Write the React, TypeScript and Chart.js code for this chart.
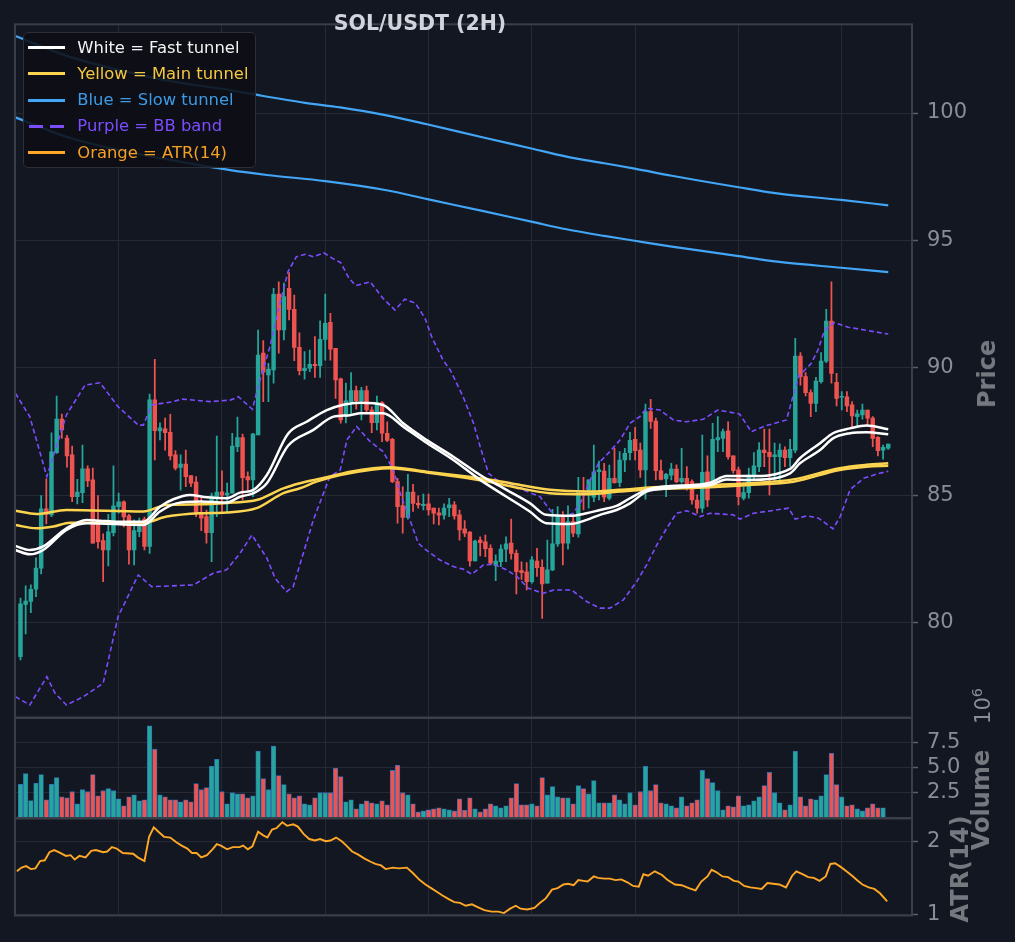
import { useEffect, useRef } from "react"
import { Chart, registerables } from "chart.js"

Chart.register(...registerables)

const FONT = "DejaVu Sans"
const BG = "#131722"
const GRID = "#262a35"
const FRAME = "#3a3e49"
const TICK = "#5b5e68"
const TICK_TEXT = "#8a8d95"
const TITLE_TEXT = "#75787f"
const UP = "#26a69a"
const DOWN = "#ef5350"

// candles, 2H, index 1..169
const opens = [
  78.68, 80.73, 80.84, 81.32, 82.15, 84.47, 84.24, 86.68, 88.0, 87.25, 86.59, 84.95, 85.11, 86.04, 85.61, 84.01, 83.23, 82.86, 83.54, 84.56,
  84.75, 84.2, 82.86, 83.58, 84.07, 83.0, 88.75, 87.53, 87.61, 87.48, 86.59, 86.1, 86.23, 85.78, 85.52, 84.3, 84.17, 83.54, 84.95, 85.14,
  85.02, 85.09, 86.91, 87.27, 85.74, 85.61, 87.37, 90.58, 89.73, 89.92, 92.9, 91.49, 93.12, 92.3, 90.81, 89.89, 89.99, 90.14, 90.09, 91.12,
  91.79, 90.77, 89.57, 88.09, 88.68, 89.11, 88.72, 89.11, 88.35, 87.85, 88.64, 87.44, 87.2, 85.54, 84.6, 84.14, 85.13, 84.69, 84.6, 84.67,
  84.5, 84.32, 84.23, 84.52, 84.63, 84.24, 83.69, 83.56, 82.43, 83.25, 83.18, 82.93, 82.26, 82.4, 82.89, 83.13, 82.73, 82.05, 82.0, 81.62,
  82.43, 82.18, 81.56, 82.08, 83.1, 84.17, 83.13, 83.97, 83.49, 85.15, 85.09, 84.93, 85.93, 85.96, 84.89, 85.67, 85.5, 86.39, 86.68, 87.2,
  86.78, 86.0, 88.29, 87.92, 85.97, 85.65, 85.8, 86.03, 85.54, 85.67, 85.54, 84.82, 84.5, 85.93, 85.54, 87.18, 87.24, 87.53, 86.55, 86.0,
  84.89, 85.11, 85.8, 86.13, 86.78, 86.69, 86.52, 86.52, 86.78, 86.48, 86.78, 90.47, 89.66, 89.03, 88.61, 89.46, 90.27, 91.84, 89.44, 88.85,
  88.87, 88.55, 88.09, 88.16, 88.35, 88.03, 87.28, 86.78, 86.85,
]
const highs = [
  80.97, 81.45, 81.49, 82.55, 84.99, 85.65, 87.46, 88.9, 88.19, 87.36, 86.94, 85.63, 86.98, 86.16, 86.07, 84.99, 83.49, 84.26, 86.16, 85.09,
  84.79, 84.26, 84.04, 84.11, 84.15, 88.98, 90.34, 87.85, 88.03, 88.18, 86.76, 86.59, 86.78, 85.78, 85.74, 84.95, 84.43, 85.09, 87.33, 85.97,
  85.48, 87.44, 88.07, 87.41, 85.93, 87.44, 91.49, 91.07, 90.18, 93.12, 93.38, 93.33, 93.74, 92.86, 91.38, 90.64, 90.7, 91.23, 91.85, 92.9,
  92.14, 90.77, 89.6, 89.41, 89.82, 89.29, 89.24, 89.29, 88.48, 88.9, 88.68, 87.89, 87.24, 85.67, 85.34, 85.83, 85.44, 84.98, 85.05, 85.05,
  84.5, 84.5, 84.67, 84.89, 84.76, 84.43, 84.01, 83.58, 83.25, 83.38, 83.45, 83.06, 82.67, 83.06, 83.38, 84.07, 82.86, 82.4, 82.37, 82.6,
  82.93, 82.47, 83.25, 84.46, 84.56, 84.37, 84.59, 84.23, 85.71, 85.71, 85.61, 86.98, 86.35, 86.26, 86.19, 86.85, 86.72, 86.85, 87.48, 87.67,
  87.05, 88.58, 88.77, 88.03, 86.39, 85.87, 86.26, 86.2, 86.85, 86.13, 85.61, 85.02, 87.37, 86.55, 87.83, 88.09, 87.6, 87.89, 86.55, 86.11,
  85.34, 86.07, 86.68, 87.07, 87.6, 87.6, 87.05, 87.02, 86.91, 87.2, 91.16, 90.6, 89.82, 89.14, 89.63, 90.6, 92.3, 93.38, 89.79, 89.07,
  89.07, 88.68, 88.35, 88.58, 88.35, 88.09, 87.31, 86.98, 87.01,
]
const lows = [
  78.55, 79.57, 80.4, 81.03, 81.92, 83.88, 84.17, 86.65, 87.24, 86.11, 84.76, 84.67, 84.72, 85.34, 83.13, 82.93, 81.62, 82.24, 83.41, 84.3,
  83.77, 82.3, 82.27, 83.38, 82.86, 82.73, 86.39, 87.18, 86.78, 86.39, 86.0, 85.21, 85.34, 85.34, 84.17, 83.62, 83.13, 82.4, 84.17, 84.3,
  84.3, 85.09, 86.72, 84.82, 85.21, 84.95, 87.37, 88.68, 88.68, 89.4, 90.58, 91.1, 91.88, 90.29, 89.73, 89.56, 89.85, 89.63, 89.63, 90.31,
  90.31, 88.81, 87.83, 87.84, 88.22, 88.38, 87.96, 88.22, 87.46, 87.57, 87.11, 87.11, 85.5, 83.91, 83.52, 84.07, 84.37, 84.5, 84.43, 84.23,
  83.88, 83.84, 84.07, 84.17, 84.07, 83.25, 83.38, 82.23, 82.43, 82.63, 82.6, 82.27, 81.66, 82.21, 82.4, 82.5, 81.14, 81.71, 81.29, 81.56,
  81.82, 80.18, 81.56, 82.05, 83.0, 82.27, 82.89, 83.38, 83.36, 84.43, 84.5, 84.76, 84.82, 84.76, 84.82, 85.48, 85.34, 85.93, 86.39, 86.39,
  85.71, 84.85, 87.63, 85.61, 85.61, 84.95, 85.61, 85.5, 85.48, 85.21, 84.66, 84.3, 84.33, 84.56, 85.34, 86.72, 86.72, 86.42, 85.87, 84.63,
  84.82, 84.89, 85.63, 85.93, 86.13, 85.02, 85.54, 85.61, 86.13, 86.13, 86.68, 89.33, 88.9, 88.09, 88.29, 89.4, 90.21, 89.4, 88.51, 88.35,
  88.29, 87.7, 87.73, 87.99, 87.76, 86.91, 86.55, 86.42, 86.81,
]
const closes = [
  80.75, 80.86, 81.32, 82.15, 84.47, 84.26, 86.71, 88.0, 87.57, 86.55, 84.95, 85.13, 86.04, 85.57, 83.13, 83.19, 82.86, 83.57, 84.59, 84.75,
  84.16, 82.86, 83.62, 83.77, 83.0, 88.75, 87.54, 87.65, 87.46, 86.55, 86.07, 86.23, 85.74, 85.48, 84.3, 84.11, 83.54, 84.98, 85.13, 85.01,
  85.09, 86.94, 87.27, 85.7, 85.61, 87.41, 90.51, 89.84, 89.96, 92.89, 91.49, 92.8, 92.3, 90.81, 89.89, 89.99, 90.14, 90.09, 91.12, 91.75,
  90.74, 89.53, 87.96, 88.71, 89.11, 88.72, 89.11, 88.35, 87.85, 88.64, 87.44, 87.16, 85.54, 84.56, 84.14, 85.13, 84.69, 84.63, 84.65, 84.43,
  84.3, 84.23, 84.5, 84.63, 84.2, 83.65, 83.52, 82.43, 83.21, 83.15, 82.91, 82.34, 82.43, 82.9, 83.1, 82.73, 82.01, 81.97, 81.62, 82.47,
  82.17, 81.53, 82.08, 83.1, 84.17, 83.13, 83.97, 83.52, 85.15, 85.02, 85.61, 85.93, 86.0, 84.93, 85.67, 85.5, 86.39, 86.65, 87.16, 86.76,
  86.0, 88.29, 87.9, 85.97, 85.63, 85.83, 86.03, 85.54, 85.67, 85.34, 84.82, 84.5, 85.91, 84.82, 87.2, 87.27, 87.5, 86.52, 85.97, 84.95,
  85.11, 85.8, 86.16, 86.78, 86.68, 86.52, 86.59, 86.78, 86.48, 86.81, 90.47, 89.66, 89.03, 88.61, 89.49, 90.27, 91.84, 89.79, 88.81, 88.87,
  88.51, 88.12, 88.2, 88.35, 88.03, 87.24, 86.76, 86.89, 87.01,
]
// volume, millions
const volumes = [
  3.33, 4.4, 1.73, 3.43, 4.3, 1.8, 3.33, 4.0, 2.1, 2.0, 2.6, 1.4, 2.8, 2.6, 4.3, 2.2, 2.7, 2.9, 2.7, 1.9,
  1.2, 2.1, 2.3, 1.7, 1.8, 9.1, 6.8, 2.3, 2.1, 1.8, 1.8, 1.6, 1.8, 1.6, 3.4, 2.8, 3.0, 5.1, 5.8, 2.6,
  1.4, 2.5, 2.4, 2.4, 2.0, 2.2, 6.6, 3.9, 2.8, 7.1, 4.2, 3.3, 2.4, 2.0, 2.2, 1.4, 1.3, 2.0, 2.5, 2.5,
  2.5, 4.9, 4.1, 1.6, 1.8, 0.9, 1.4, 1.7, 1.5, 1.4, 1.7, 1.3, 4.7, 5.2, 2.5, 2.3, 1.4, 0.6, 0.7, 0.8,
  0.9, 1.0, 0.9, 0.8, 0.7, 1.9, 0.77, 2.0, 0.9, 0.6, 0.9, 1.4, 1.2, 1.0, 1.2, 2.0, 3.4, 1.3, 1.3, 1.4,
  1.2, 4.0, 2.3, 3.1, 2.1, 2.0, 2.0, 1.4, 3.2, 2.9, 2.4, 3.7, 1.5, 1.5, 1.5, 2.3, 1.8, 1.4, 2.5, 1.3,
  2.6, 5.1, 2.7, 3.3, 1.5, 1.4, 1.2, 1.0, 2.1, 1.2, 1.5, 1.8, 4.7, 3.9, 3.5, 2.7, 0.8, 1.2, 1.1, 2.2,
  1.2, 1.3, 1.7, 2.1, 3.2, 4.5, 2.5, 1.5, 0.8, 1.3, 6.6, 2.1, 1.2, 1.9, 1.8, 2.2, 4.3, 6.4, 3.3, 2.1,
  1.2, 1.3, 0.9, 0.7, 1.0, 1.4, 1.0, 1.0, 0.1,
]

// overlay lines as [candle index, value]
const fastUpper = [
  [0, 83.02], [2.8, 82.86], [5.4, 83.0], [9.9, 83.71], [13.8, 84.04], [16.4, 84.01], [19.6, 83.97], [24.8, 83.97], [28, 84.56], [30.6, 84.85],
  [33.8, 85.02], [37.1, 84.93], [40.9, 84.89], [43.5, 85.11], [46.1, 85.22], [48.7, 85.8], [52.8, 87.42], [56.4, 87.89], [60.3, 88.35], [63.5, 88.56],
  [66.8, 88.64], [71.2, 88.55], [75.1, 87.83], [79.6, 87.18], [84.8, 86.52], [90, 85.8], [95.1, 85.22], [99.6, 84.7], [102.8, 84.24], [107.4, 84.2],
  [110.6, 84.3], [113.2, 84.43], [116.4, 84.59], [119, 84.89], [122.2, 85.22], [126.8, 85.37], [131.3, 85.41], [134.5, 85.5], [137.7, 85.76], [142.2, 85.76],
  [150, 86.04], [151.9, 86.46], [155.8, 87.05], [158.3, 87.44], [161.6, 87.63], [164.8, 87.74], [169, 87.6],
]
const fastLower = [
  [0, 82.86], [2.8, 82.69], [5.4, 82.86], [9.9, 83.65], [13.8, 83.91], [24.8, 83.84], [28, 84.37], [31.2, 84.69], [35.8, 84.76], [40.9, 84.72],
  [43.5, 84.95], [46.1, 85.09], [48.7, 85.48], [52.8, 86.95], [57.7, 87.57], [61.6, 88.09], [64.8, 88.15], [66.8, 88.22], [71.2, 88.22], [75.1, 87.7],
  [79.6, 87.07], [84.8, 86.39], [90, 85.61], [95.1, 84.95], [99.6, 84.37], [102.8, 83.91], [107.4, 83.88], [110.6, 84.04], [113.2, 84.24], [116.4, 84.43],
  [119, 84.69], [122.2, 85.15], [126.8, 85.28], [131.3, 85.35], [134.5, 85.4], [137.7, 85.63], [142.2, 85.61], [150, 85.87], [151.9, 86.26], [155.8, 86.78],
  [158.3, 87.24], [161.6, 87.44], [164.8, 87.48], [169, 87.4],
]
const mainUpper = [
  [0, 84.4], [4.1, 84.27], [9.9, 84.43], [24.8, 84.37], [29.3, 84.63], [35.8, 84.65], [42.2, 84.72], [46.7, 84.82], [51.9, 85.28], [55.1, 85.48],
  [58.3, 85.63], [62.9, 85.84], [64.8, 85.93], [69.3, 86.07], [72.5, 86.11], [79.6, 85.93], [87.4, 85.74], [93.2, 85.58], [97.7, 85.41], [103.5, 85.22],
  [110.6, 85.15], [116.9, 85.22], [123.5, 85.32], [134.5, 85.41], [142.2, 85.48], [150.6, 85.63], [159.6, 86.07], [164.8, 86.2], [169, 86.26],
]
const mainLower = [
  [0, 83.84], [4.1, 83.71], [7.4, 83.78], [10.6, 83.93], [24.8, 83.93], [29.3, 84.17], [35.8, 84.3], [40.9, 84.33], [46.7, 84.5], [51.9, 85.09],
  [55.1, 85.28], [58.3, 85.54], [62.9, 85.8], [69.3, 86.02], [72.5, 86.07], [79.6, 85.9], [87.4, 85.68], [93.2, 85.48], [97.7, 85.28], [103.5, 85.09],
  [110.6, 85.05], [116.9, 85.15], [123.5, 85.24], [134.5, 85.32], [142.2, 85.41], [150.6, 85.54], [159.6, 86.0], [164.8, 86.13], [169, 86.16],
]
const slowUpper = [
  [0, 103.02], [10, 102.24], [20, 101.69], [30, 101.25], [41.6, 100.9], [47.1, 100.7], [56.1, 100.4], [62.9, 100.22], [71.6, 99.92], [79.7, 99.56],
  [90.4, 99.05], [99.9, 98.61], [106.7, 98.29], [114, 98.03], [119.9, 97.82], [127.1, 97.54], [140, 97.09], [147.5, 96.85], [159.9, 96.59], [169, 96.38],
]
const slowLower = [
  [0, 99.83], [10, 99.06], [20, 98.55], [30, 98.16], [41.6, 97.76], [48.7, 97.57], [60, 97.33], [71.6, 96.98], [80, 96.61], [90.4, 96.16],
  [99.9, 95.74], [106.7, 95.44], [114, 95.18], [119.9, 94.99], [127.1, 94.76], [140, 94.39], [147.5, 94.17], [159.9, 93.93], [169, 93.76],
]
const bbUpper = [
  [0, 89.01], [2.8, 88.09], [6.1, 85.74], [9.9, 88.16], [13.5, 89.33], [16.4, 89.42], [19.9, 88.48], [23.8, 87.76], [24.8, 87.76], [26.4, 88.55],
  [30.6, 88.68], [32.2, 88.78], [37.7, 88.68], [41.6, 88.74], [43.2, 88.87], [45.9, 88.38], [47, 89.27], [49.3, 90.84], [50.9, 92.27], [52.8, 93.78],
  [54.4, 94.36], [56.1, 94.46], [57.7, 94.36], [59.7, 94.52], [61.4, 94.3], [63, 94.13], [64.6, 93.52], [65.9, 93.23], [67.1, 93.29], [68.7, 93.38],
  [71.2, 92.73], [73.5, 92.27], [75.4, 92.7], [77.4, 92.55], [79.3, 91.96], [80.7, 91.18], [82.8, 90.31], [84.2, 89.92], [86.7, 88.87], [88.7, 87.83],
  [90, 86.91], [91.6, 85.87], [93.2, 85.61], [96.4, 85.41], [98.5, 85.2], [101.6, 84.95], [104.2, 84.24], [106.4, 84.17], [108, 84.3], [109.7, 84.82],
  [111.3, 85.61], [112.9, 86.26], [115.1, 86.72], [117.1, 87.18], [119, 87.83], [120.9, 88.09], [122.2, 88.42], [124.8, 88.35], [127.4, 87.96], [129.9, 87.89],
  [133.2, 87.99], [136, 88.35], [140.2, 88.2], [142.5, 87.5], [145.1, 87.72], [149.3, 87.96], [151.6, 89.66], [154.1, 90.18], [155.4, 90.71], [156.7, 91.49],
  [158.6, 91.78], [161.2, 91.6], [164.4, 91.49], [169, 91.33],
]
const bbLower = [
  [0, 77.11], [2.8, 76.78], [6.1, 77.89], [7.7, 77.24], [9.9, 76.78], [13.2, 77.11], [17, 77.63], [19.9, 80.25], [23.8, 81.88], [26.4, 81.42],
  [34.5, 81.49], [38.3, 81.95], [40.9, 82.08], [43.5, 82.73], [45.8, 83.45], [48.7, 82.54], [50.3, 81.75], [52.5, 81.23], [53.8, 81.42], [57.7, 84.04],
  [60.9, 85.74], [62.9, 86.0], [64.2, 87.18], [66.1, 87.7], [68.7, 87.11], [71.2, 86.72], [73.2, 86.0], [74.5, 85.09], [76.4, 84.04], [78, 83.13],
  [79.3, 82.89], [82.2, 82.47], [84.8, 82.21], [86.7, 82.11], [88.4, 81.91], [90.6, 82.27], [92.5, 82.31], [95.1, 82.08], [97.1, 81.82], [99.3, 81.36],
  [102.2, 81.16], [104.2, 81.29], [107.7, 81.29], [110.6, 80.84], [113.2, 80.58], [115.1, 80.58], [117.7, 80.9], [120.3, 81.62], [122.2, 82.27], [124.2, 83.06],
  [126.1, 83.71], [128, 84.3], [130, 84.4], [132.6, 84.17], [134.5, 84.3], [139, 84.24], [140.3, 84.07], [142.9, 84.3], [149.7, 84.5], [151, 84.07],
  [153.2, 84.2], [155.5, 84.11], [158.3, 83.69], [159.7, 84.17], [161.6, 85.22], [164.2, 85.67], [166.8, 85.84], [169, 85.95],
]
const atr14 = [
  [0.3, 1.59], [1.2, 1.64], [2.1, 1.66], [3, 1.62], [3.9, 1.63], [4.8, 1.73], [5.7, 1.74], [6.6, 1.85], [7.5, 1.88], [8.4, 1.85],
  [9.8, 1.8], [10.7, 1.81], [11.5, 1.75], [12.4, 1.8], [13.6, 1.78], [14.7, 1.87], [15.6, 1.88], [17, 1.85], [17.8, 1.86], [18.7, 1.92],
  [19.6, 1.9], [20.8, 1.84], [22.8, 1.83], [23.7, 1.78], [25, 1.73], [25.9, 2.06], [26.8, 2.19], [27.7, 2.13], [28.8, 2.06], [30, 2.05],
  [31.1, 1.99], [32.2, 1.94], [33.3, 1.9], [34.2, 1.84], [35.1, 1.84], [36, 1.78], [37.1, 1.81], [38.3, 1.9], [39, 1.96], [39.8, 1.94],
  [41, 1.89], [42.1, 1.92], [43.4, 1.92], [44.1, 1.94], [45, 1.89], [45.9, 1.93], [47, 2.13], [48, 2.08], [48.8, 2.05], [49.7, 2.16],
  [50.6, 2.18], [51.7, 2.26], [52.6, 2.21], [53.8, 2.23], [54.7, 2.2], [55.8, 2.1], [56.9, 2.03], [58, 2.01], [59, 2.03], [60.1, 2.0],
  [61, 2.01], [62.1, 2.05], [63.2, 2.0], [64.1, 1.94], [65.2, 1.86], [66.3, 1.82], [67.7, 1.76], [68.8, 1.72], [69.7, 1.69], [70.8, 1.67],
  [71.7, 1.62], [73.1, 1.64], [74.2, 1.63], [75.8, 1.64], [76.9, 1.57], [78.3, 1.47], [79.4, 1.41], [80.5, 1.36], [81.6, 1.31], [82.7, 1.26],
  [83.9, 1.21], [85, 1.17], [86.1, 1.16], [87.2, 1.12], [88.4, 1.14], [89.5, 1.1], [90.8, 1.06], [92.2, 1.04], [93.5, 1.04], [94.6, 1.02],
  [95.8, 1.08], [96.9, 1.12], [97.8, 1.08], [99.1, 1.07], [100.5, 1.09], [101.6, 1.16], [102.7, 1.22], [103.9, 1.34], [105, 1.36], [106.1, 1.41],
  [107, 1.42], [108.1, 1.4], [109, 1.47], [110, 1.46], [110.8, 1.45], [112, 1.52], [112.8, 1.5], [114, 1.49], [115.1, 1.49], [116.2, 1.47],
  [117.3, 1.48], [118.5, 1.44], [119.6, 1.39], [120.7, 1.38], [121.6, 1.55], [122.5, 1.53], [123.8, 1.59], [125.2, 1.54], [126.3, 1.47], [127.7, 1.41],
  [129, 1.4], [130.4, 1.36], [131.7, 1.33], [132.8, 1.45], [134, 1.52], [134.8, 1.61], [135.7, 1.58], [136.9, 1.52], [138, 1.51], [139.1, 1.46],
  [140, 1.45], [141.1, 1.39], [142.3, 1.37], [143.4, 1.36], [144.5, 1.35], [145.6, 1.43], [146.7, 1.42], [147.9, 1.41], [149.2, 1.37], [150.4, 1.53],
  [151.2, 1.59], [152.4, 1.55], [153.5, 1.51], [154.6, 1.5], [155.7, 1.46], [156.9, 1.52], [157.8, 1.69], [158.7, 1.7], [159.8, 1.65], [160.9, 1.59],
  [162, 1.53], [163.1, 1.46], [164, 1.41], [165.2, 1.37], [166.3, 1.35], [167.4, 1.29], [168.8, 1.18],
]

const xTicks = [20, 40, 60, 80, 100, 120, 140, 160]
const priceTicks = [80, 85, 90, 95, 100]
const volumeTicks = [2.5, 5, 7.5]
const atrTicks = [1, 2]

const legendItems = [
  { label: "White = Fast tunnel", color: "#ffffff", text: "#f2f2f2", dashed: false },
  { label: "Yellow = Main tunnel", color: "#fdd44f", text: "#f5c842", dashed: false },
  { label: "Blue = Slow tunnel", color: "#42a5f5", text: "#3d9be6", dashed: false },
  { label: "Purple = BB band", color: "#7c4dff", text: "#7c4dff", dashed: true },
  { label: "Orange = ATR(14)", color: "#ffa726", text: "#f5a024", dashed: false },
]

const W = 1015
const PLOT_LEFT = 15
const PLOT_RIGHT = 912
const X_MIN = -0.065
const X_MAX = 173.6

const idx = closes.map((_, k) => k + 1)
const isUp = closes.map((c, k) => c >= opens[k])
const candleColors = isUp.map(u => (u ? UP : DOWN))
const pts = (arr: number[][]) => arr.map(([x, y]) => ({ x, y }))

const framePlugin = {
  id: "frame",
  afterDraw(chart: any) {
    const { ctx, chartArea: a } = chart
    ctx.save()
    ctx.strokeStyle = FRAME
    ctx.lineWidth = 2
    ctx.strokeRect(a.left, a.top, a.right - a.left, a.bottom - a.top)
    ctx.restore()
  },
}

function xAxis() {
  return {
    type: "linear",
    min: X_MIN,
    max: X_MAX,
    offset: false,
    grid: { color: GRID, drawTicks: false, offset: false, lineWidth: 1 },
    border: { display: false },
    ticks: { display: false },
    afterBuildTicks: (s: any) => {
      s.ticks = xTicks.map(v => ({ value: v }))
    },
    afterFit: (s: any) => {
      s.height = 0
      s.paddingLeft = 0
      s.paddingRight = 0
    },
  }
}

function yAxis(min: number, max: number, ticks: number[], fmt: (v: number) => string) {
  return {
    position: "right",
    min,
    max,
    grid: { color: GRID, tickColor: TICK, tickLength: 6, tickWidth: 1.5, lineWidth: 1 },
    border: { display: false },
    ticks: {
      color: TICK_TEXT,
      font: { family: FONT, size: 21 },
      padding: 9,
      callback: (v: any) => fmt(Number(v)),
    },
    afterBuildTicks: (s: any) => {
      s.ticks = ticks.map(v => ({ value: v }))
    },
    afterFit: (s: any) => {
      s.width = W - PLOT_RIGHT
      s.paddingTop = 0
      s.paddingBottom = 0
    },
  }
}

function baseOptions(top: number, bottom: number, y: any) {
  return {
    animation: false,
    responsive: false,
    maintainAspectRatio: false,
    events: [],
    layout: { padding: { left: PLOT_LEFT, right: 0, top, bottom } },
    plugins: { legend: { display: false }, tooltip: { enabled: false } },
    scales: { x: xAxis(), y },
  }
}

function lineSet(data: number[][], color: string, width: number, order: number, dash?: number[], smooth = true) {
  return {
    type: "line",
    data: pts(data),
    borderColor: color,
    borderWidth: width,
    borderDash: dash || [],
    pointRadius: 0,
    fill: false,
    cubicInterpolationMode: smooth ? "monotone" : "default",
    tension: 0,
    order,
  }
}

function PriceChart() {
  const ref = useRef<HTMLCanvasElement>(null)
  useEffect(() => {
    if (!ref.current) return
    const chart = new Chart(ref.current, {
      type: "bar",
      data: {
        datasets: [
          {
            type: "bar",
            data: idx.map((x, k) => ({ x, y: [lows[k], highs[k]] })),
            backgroundColor: candleColors,
            barThickness: 1.1,
            grouped: false,
            order: 20,
          },
          {
            type: "bar",
            data: idx.map((x, k) => ({ x, y: [opens[k], closes[k]] })),
            backgroundColor: candleColors,
            barThickness: 3.8,
            minBarLength: 1,
            grouped: false,
            order: 19,
          },
          lineSet(bbUpper, "#7c4dff", 1.6, 6, [5, 3], false),
          lineSet(bbLower, "#7c4dff", 1.6, 6, [5, 3], false),
          lineSet(slowUpper, "#42a5f5", 2.2, 5),
          lineSet(slowLower, "#42a5f5", 2.2, 5),
          lineSet(mainUpper, "#fdd44f", 2.5, 4),
          lineSet(mainLower, "#fdd44f", 2.5, 4),
          lineSet(fastUpper, "#ffffff", 2.5, 3),
          lineSet(fastLower, "#ffffff", 2.5, 3),
        ] as any,
      },
      options: baseOptions(24.3, 2.5, yAxis(76.29, 103.48, priceTicks, v => String(v))) as any,
      plugins: [framePlugin],
    })
    return () => chart.destroy()
  }, [])
  return <canvas ref={ref} width={W} height={720} style={{ position: "absolute", left: 0, top: 0, width: W, height: 720 }} />
}

function VolumeChart() {
  const ref = useRef<HTMLCanvasElement>(null)
  useEffect(() => {
    if (!ref.current) return
    const chart = new Chart(ref.current, {
      type: "bar",
      data: {
        datasets: [
          {
            type: "bar",
            data: idx.map((x, k) => ({ x, y: volumes[k] })),
            backgroundColor: candleColors,
            borderColor: "#2f6db5",
            borderWidth: 0.8,
            barThickness: 4.6,
            grouped: false,
          },
        ] as any,
      },
      options: baseOptions(18, 12, yAxis(0, 9.88, volumeTicks, v => v.toFixed(1))) as any,
      plugins: [framePlugin],
    })
    return () => chart.destroy()
  }, [])
  return <canvas ref={ref} width={W} height={130} style={{ position: "absolute", left: 0, top: 700, width: W, height: 130 }} />
}

function AtrChart() {
  const ref = useRef<HTMLCanvasElement>(null)
  useEffect(() => {
    if (!ref.current) return
    const chart = new Chart(ref.current, {
      type: "line",
      data: {
        datasets: [lineSet(atr14, "#ffa726", 1.9, 1, [], false)] as any,
      },
      options: baseOptions(18.5, 26.5, yAxis(0.987, 2.31, atrTicks, v => String(v))) as any,
      plugins: [framePlugin],
    })
    return () => chart.destroy()
  }, [])
  return <canvas ref={ref} width={W} height={142} style={{ position: "absolute", left: 0, top: 800, width: W, height: 142 }} />
}

function VText({ cx, cy, size, bold, color, children }: any) {
  return (
    <div
      style={{
        position: "absolute",
        left: cx,
        top: cy,
        transform: "translate(-50%, -50%) rotate(-90deg)",
        fontFamily: FONT,
        fontSize: size,
        fontWeight: bold ? 700 : 400,
        color,
        whiteSpace: "nowrap",
        lineHeight: 1,
      }}
    >
      {children}
    </div>
  )
}

export default function App() {
  return (
    <div
      style={{
        position: "fixed",
        left: 0,
        top: 0,
        width: W,
        height: 942,
        background: BG,
        overflow: "hidden",
        fontFamily: FONT,
      }}
    >
      <PriceChart />
      <VolumeChart />
      <AtrChart />

      <div
        style={{
          position: "absolute",
          left: 0,
          width: 840,
          top: 12.5,
          textAlign: "center",
          fontSize: 20.5,
          lineHeight: "21px",
          fontWeight: 700,
          color: "#d1d4dc",
        }}
      >
        SOL/USDT (2H)
      </div>

      <div
        style={{
          position: "absolute",
          left: 23,
          top: 32,
          width: 233,
          height: 136,
          boxSizing: "border-box",
          background: "rgba(12,14,20,0.88)",
          border: "1px solid #2b2f3a",
          borderRadius: 5,
        }}
      >
        {legendItems.map((it, k) => {
          const cy = 14.5 + k * 26.25
          return (
            <div key={it.label}>
              {it.dashed ? (
                <>
                  <div style={{ position: "absolute", left: 5, top: cy - 1.5, width: 14, height: 3, background: it.color }} />
                  <div style={{ position: "absolute", left: 26, top: cy - 1.5, width: 14, height: 3, background: it.color }} />
                </>
              ) : (
                <div style={{ position: "absolute", left: 4.3, top: cy - 1.5, width: 37, height: 3, background: it.color }} />
              )}
              <div
                style={{
                  position: "absolute",
                  left: 53.3,
                  top: cy - 11,
                  height: 22,
                  lineHeight: "22px",
                  fontSize: 16.4,
                  color: it.text,
                  whiteSpace: "nowrap",
                }}
              >
                {it.label}
              </div>
            </div>
          )
        })}
      </div>

      <VText cx={986.7} cy={374} size={24} bold color={TITLE_TEXT}>Price</VText>
      <VText cx={981} cy={800} size={24} bold color={TITLE_TEXT}>Volume</VText>
      <VText cx={960} cy={869} size={24} bold color={TITLE_TEXT}>ATR(14)</VText>
      <VText cx={982} cy={706} size={21} color={TICK_TEXT}>
        10<sup style={{ fontSize: 14.5, verticalAlign: "8px" }}>6</sup>
      </VText>
    </div>
  )
}
